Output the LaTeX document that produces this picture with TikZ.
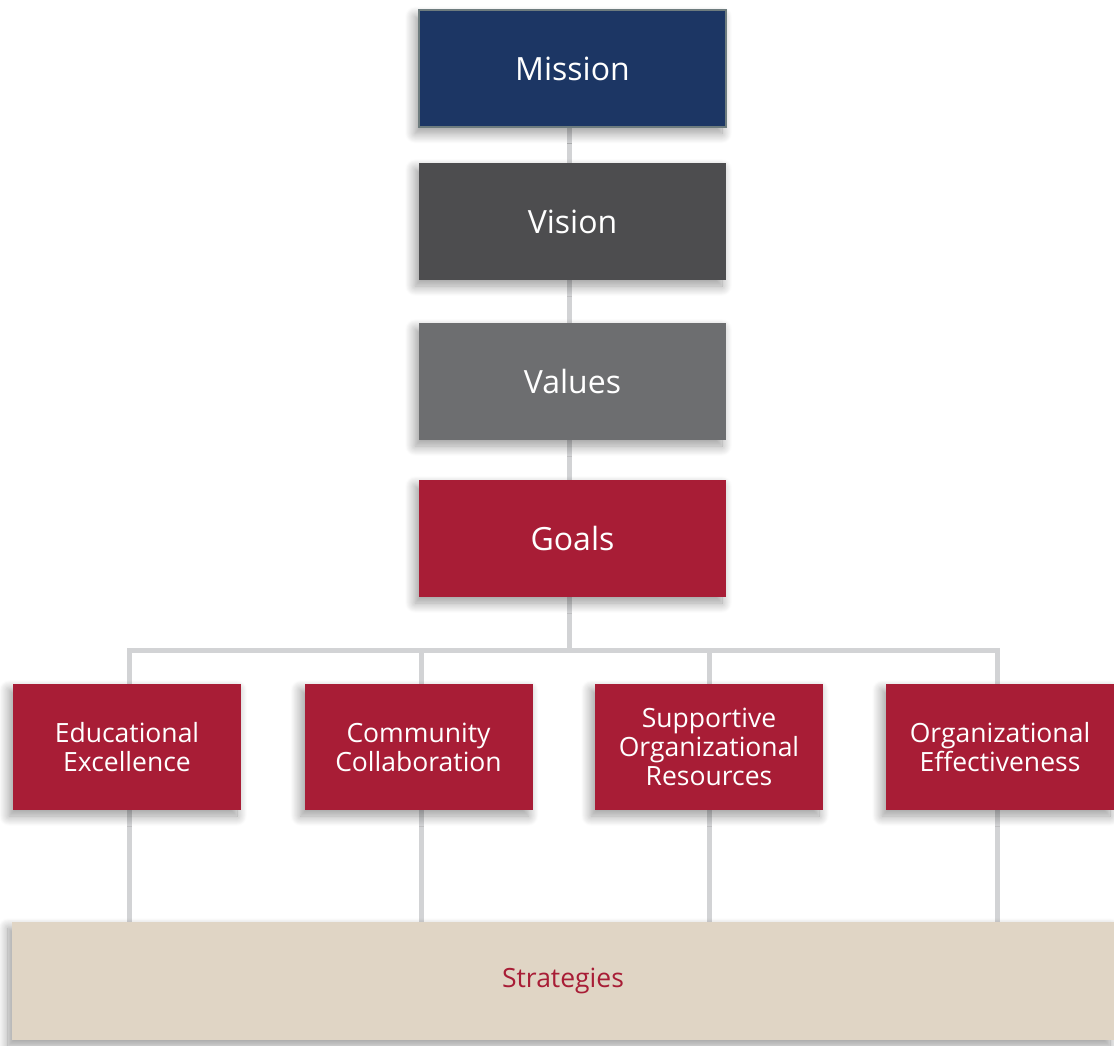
\documentclass[tikz,border=0pt]{standalone}
\usepackage{fontspec}
\setmainfont{Open Sans}
\usetikzlibrary{backgrounds,shadows.blur}
\definecolor{navy}{HTML}{1C3664}
\definecolor{navyedge}{HTML}{6E7C7E}
\definecolor{darkgr}{HTML}{4D4D4F}
\definecolor{midgr}{HTML}{6D6E70}
\definecolor{crimson}{HTML}{A81D36}
\definecolor{beige}{HTML}{E0D5C5}
\definecolor{linkgr}{HTML}{D2D3D5}
\tikzset{
  softshadow/.style={blur shadow={shadow xshift=-4pt, shadow yshift=-6pt, shadow blur steps=14, shadow opacity=40, shadow blur radius=10pt}},
  topbox/.style={rectangle, minimum width=307pt, minimum height=117pt, inner sep=0pt,
    text=white, font=\fontsize{32}{36}\selectfont, softshadow},
  goalbox/.style={rectangle, fill=crimson, minimum width=228pt, minimum height=126pt, inner sep=0pt,
    text=white, align=center, font=\fontsize{26.5}{29}\selectfont, softshadow},
  link/.style={draw=linkgr, line width=5pt}
}
\begin{document}
\begin{tikzpicture}[x=1pt,y=-1pt]
\useasboundingbox (0,0) rectangle (1114,1046);
\node[topbox, fill=navy, draw=navyedge, line width=2pt] (mission) at (572.5,69) {Mission};
\node[topbox, fill=darkgr] (vision) at (572.5,221.5) {Vision};
\node[topbox, fill=midgr] (values) at (572.5,381.5) {Values};
\node[topbox, fill=crimson] (goals) at (572.5,538.5) {Goals};
\node[goalbox] (g1) at (127,747) {Educational\\Excellence};
\node[goalbox] (g2) at (418.5,747) {Community\\Collaboration};
\node[goalbox] (g3) at (709,747) {Supportive\\Organizational\\Resources};
\node[goalbox] (g4) at (1000,747) {Organizational\\Effectiveness};
\node[rectangle, fill=beige, minimum width=1102pt, minimum height=118pt, inner sep=0pt,
  text=crimson, font=\fontsize{26.5}{29}\selectfont, softshadow]
  (strat) at (563,981) {Strategies};
\coordinate (bar) at (569,650);
\begin{scope}[on background layer]
  \draw[link] ([xshift=-3.5pt]mission.south) -- ([xshift=-3.5pt]vision.north);
  \draw[link] ([xshift=-3.5pt]vision.south) -- ([xshift=-3.5pt]values.north);
  \draw[link] ([xshift=-3.5pt]values.south) -- ([xshift=-3.5pt]goals.north);
  \draw[link] ([xshift=-3.5pt]goals.south) -- (bar);
  \draw[link] ([xshift=2pt]g1.north) -- ([xshift=2pt]g1.north |- bar) -| ([xshift=-3pt]g4.north);
  \draw[link] ([xshift=2.5pt]g2.north) -- ([xshift=2.5pt]g2.north |- bar);
  \draw[link] (g3.north) -- (g3.north |- bar);
  \draw[link] ([xshift=2pt]g1.south) -- ([xshift=2pt]g1.south |- strat.north);
  \draw[link] ([xshift=2.5pt]g2.south) -- ([xshift=2.5pt]g2.south |- strat.north);
  \draw[link] (g3.south) -- (g3.south |- strat.north);
  \draw[link] ([xshift=-3pt]g4.south) -- ([xshift=-3pt]g4.south |- strat.north);
\end{scope}
\end{tikzpicture}
\end{document}
